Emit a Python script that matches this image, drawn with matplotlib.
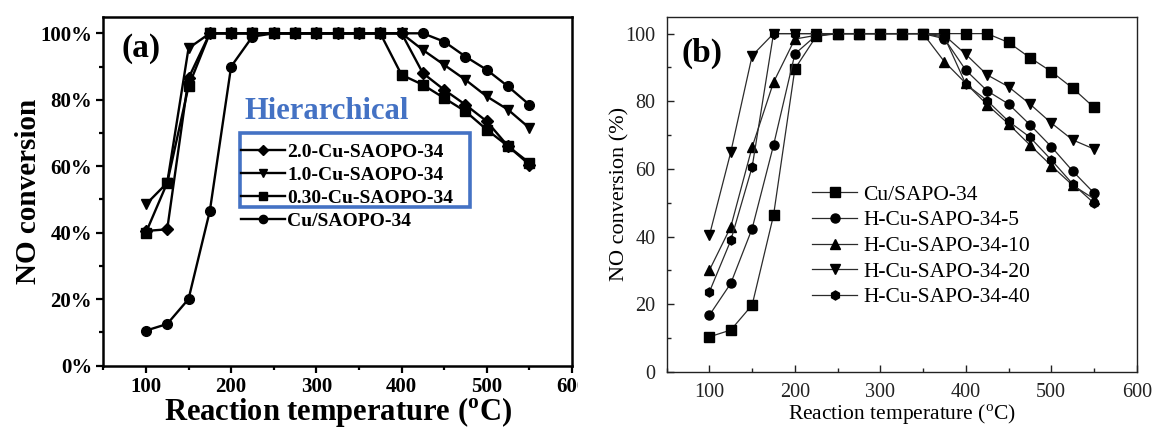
import matplotlib
matplotlib.use("Agg")
import matplotlib.pyplot as plt
from matplotlib.patches import Rectangle
from matplotlib.ticker import MultipleLocator, FuncFormatter
from matplotlib.transforms import Bbox

plt.rcParams["font.family"] = ["Liberation Serif", "DejaVu Serif"]
plt.rcParams["mathtext.fontset"] = "custom"
plt.rcParams["mathtext.rm"] = "Liberation Serif"

temps = [100, 125, 150, 175, 200, 225, 250, 275, 300, 325,
         350, 375, 400, 425, 450, 475, 500, 525, 550]

# ---- panel (a): hierarchical Cu-SAPO-34 samples ----
a_labels = ["2.0-Cu-SAOPO-34", "1.0-Cu-SAOPO-34", "0.30-Cu-SAOPO-34", "Cu/SAOPO-34"]
a_markers = ["D", "v", "s", "o"]
a_20 = [40.5, 41, 86.5, 100, 100, 100, 100, 100, 100, 100,
        100, 100, 100, 88, 83, 78.5, 73.5, 66, 60.5]
a_10 = [48.5, 55, 95.5, 100, 100, 100, 100, 100, 100, 100,
        100, 100, 100, 95, 90.5, 86, 81, 77, 71.5]
a_030 = [40, 55, 84, 100, 100, 100, 100, 100, 100, 100,
         100, 100, 87.5, 84.5, 80.5, 76.5, 71, 66, 61]
a_cu = [10.5, 12.5, 20, 46.5, 90, 99, 100, 100, 100, 100,
        100, 100, 100, 100, 97.5, 93, 89, 84, 78.5]
a_series = [a_20, a_10, a_030, a_cu]

# ---- panel (b): H-Cu-SAPO-34 series ----
b_labels = ["Cu/SAPO-34", "H-Cu-SAPO-34-5", "H-Cu-SAPO-34-10",
            "H-Cu-SAPO-34-20", "H-Cu-SAPO-34-40"]
b_markers = ["s", "o", "^", "v", "h"]
b_cu = [10.4, 12.4, 19.8, 46.3, 89.6, 99.2, 100, 100, 100, 100,
        100, 100, 100, 100, 97.4, 92.9, 88.8, 83.9, 78.2]
b_5 = [16.8, 26.2, 42.4, 67, 94, 99.5, 100, 100, 100, 100,
       100, 98.5, 89.2, 83.1, 79.2, 73.1, 66.6, 59.4, 52.9]
b_10 = [30.1, 42.9, 66.5, 85.6, 98.4, 99.5, 100, 100, 100, 100,
        100, 91.7, 85.3, 79, 73.3, 67.1, 61, 55.2, 51.2]
b_20 = [40.4, 65, 93.5, 100, 100, 100, 100, 100, 100, 100,
        100, 99.5, 93.9, 87.8, 84.3, 79.2, 73.6, 68.6, 65.9]
b_40 = [23.7, 38.9, 60.6, 100, 100, 100, 100, 100, 100, 100,
        100, 99, 85.1, 80.2, 74.1, 69.4, 62.7, 55.6, 49.9]
b_series = [b_cu, b_5, b_10, b_20, b_40]

fig = plt.figure(figsize=(11.54, 4.32), dpi=100)
W, H = 1154, 432

def px_axes(l, t, r, b):
    return fig.add_axes([l / W, 1 - b / H, (r - l) / W, (b - t) / H])

# ================= panel (a) =================
ax1 = px_axes(103.3, 16.7, 572, 365.5)
for vals, lab, mk in zip(a_series, a_labels, a_markers):
    ms = 6.0 if mk == "D" else 7.0
    ax1.plot(temps, vals, color="black", lw=1.7, marker=mk, ms=ms,
             mfc="black", mec="black", label=lab)
ax1.set_xlim(50, 600)
ax1.set_ylim(0, 105)
ax1.xaxis.set_major_locator(MultipleLocator(100))
ax1.xaxis.set_minor_locator(MultipleLocator(50))
ax1.yaxis.set_major_locator(MultipleLocator(20))
ax1.yaxis.set_minor_locator(MultipleLocator(10))
ax1.yaxis.set_major_formatter(FuncFormatter(lambda v, p: f"{int(round(v))}%"))
ax1.tick_params(which="both", direction="out", width=1.6, top=False, right=False)
ax1.tick_params(which="major", length=5, labelsize=15, pad=3)
ax1.tick_params(which="minor", length=3)
for lbl in ax1.get_xticklabels() + ax1.get_yticklabels():
    lbl.set_fontweight("bold")
for s in ax1.spines.values():
    s.set_linewidth(1.8)
ax1.set_xlabel(r"Reaction temperature ($^{\mathregular{o}}$C)", fontsize=22,
               fontweight="bold", labelpad=-1)
ax1.set_ylabel("NO conversion", fontsize=21, fontweight="bold", labelpad=-1)
ax1.text(0.08, 0.91, "(a)", transform=ax1.transAxes, fontsize=24,
         fontweight="bold", ha="center", va="center")
ax1.text(0.302, 0.727, "Hierarchical", transform=ax1.transAxes, fontsize=22,
         fontweight="bold", color="#4472C4", ha="left", va="center")
leg1 = ax1.legend(loc="upper left", bbox_to_anchor=(0.285, 0.6485), frameon=False,
                  prop={"weight": "bold", "size": 14}, handlelength=2.3,
                  handletextpad=0.1, labelspacing=0.28, borderpad=0.2,
                  borderaxespad=0, markerscale=0.85)
ax1.add_patch(Rectangle((0.2917, 0.4544), 0.782 - 0.2917, 0.6666 - 0.4544,
                        transform=ax1.transAxes, fill=False,
                        edgecolor="#4472C4", lw=2.6, zorder=5))

# the panel is cut off at its right-hand edge
fig.canvas.draw()
clip = Bbox.from_extents(0, 0, 578, H)
for lbl in ax1.get_xticklabels():
    lbl.set_clip_box(clip)
    lbl.set_clip_on(True)

# ================= panel (b) =================
ax2 = px_axes(666.7, 16.7, 1136.7, 372)
for vals, lab, mk in zip(b_series, b_labels, b_markers):
    ax2.plot(temps, vals, color="#2b2b2b", lw=0.9, marker=mk, ms=6.5,
             mfc="black", mec="black", label=lab)
ax2.set_xlim(50, 600)
ax2.set_ylim(0, 105)
ax2.xaxis.set_major_locator(MultipleLocator(100))
ax2.xaxis.set_minor_locator(MultipleLocator(50))
ax2.yaxis.set_major_locator(MultipleLocator(20))
ax2.yaxis.set_minor_locator(MultipleLocator(10))
ax2.tick_params(which="both", direction="in", width=1.0, top=False, right=False,
                colors="#222222")
ax2.tick_params(which="major", length=5, labelsize=14.5, pad=8)
ax2.tick_params(which="minor", length=3)
for s in ax2.spines.values():
    s.set_linewidth(1.0)
    s.set_color("#222222")
ax2.set_xlabel(r"Reaction temperature ($^{\mathregular{o}}$C)", fontsize=15.5,
               labelpad=0)
ax2.set_ylabel("NO conversion (%)", fontsize=16, labelpad=-3)
ax2.text(0.0745, 0.897, "(b)", transform=ax2.transAxes, fontsize=24,
         fontweight="bold", ha="center", va="center")
ax2.legend(loc="upper left", bbox_to_anchor=(0.309, 0.527), frameon=False,
           fontsize=15.5, handlelength=2.1, handletextpad=0.3,
           labelspacing=0.26, borderpad=0, borderaxespad=0)

fig.savefig("out.png", dpi=100)
